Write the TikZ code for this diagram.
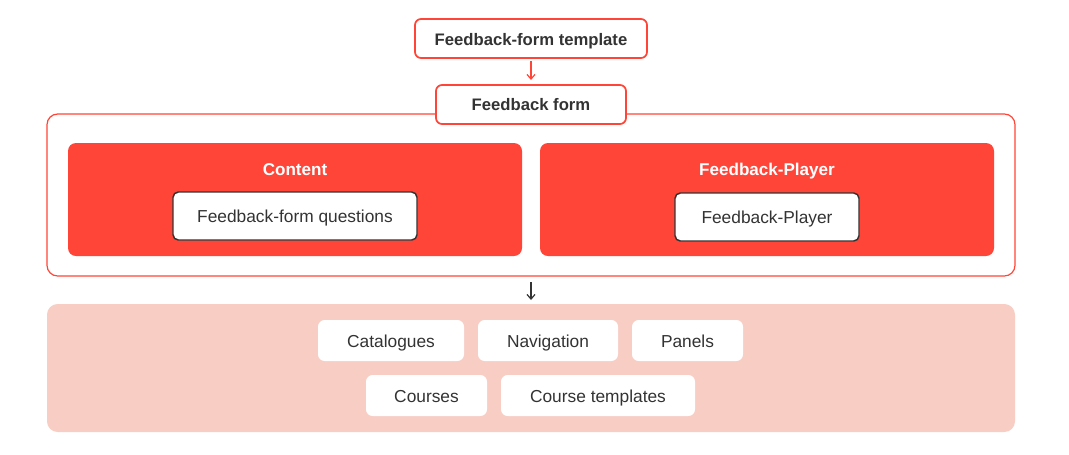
\documentclass[tikz,border=0pt]{standalone}
\usepackage{fontspec}
\setmainfont{Liberation Sans}
\usetikzlibrary{arrows.meta}
\definecolor{brandred}{HTML}{FF4538}
\definecolor{panelpink}{HTML}{F8CDC4}
\definecolor{ink}{HTML}{333333}
\begin{document}
\begin{tikzpicture}[x=0.75pt,y=-0.75pt,
  redbox/.style={draw=brandred,line width=1.3pt,fill=white,rounded corners=4.5pt},
  panel/.style={fill=brandred,rounded corners=6pt},
  innerbox/.style={draw=ink,line width=1.1pt,fill=white,rounded corners=4pt},
  pill/.style={fill=white,rounded corners=5pt},
  txt/.style={text height=9.2pt,text depth=0pt,inner sep=0pt},
  lbl/.style={txt,font=\fontsize{13pt}{15pt}\selectfont,text=ink},
  blbl/.style={txt,font=\fontsize{12.5pt}{15pt}\selectfont\bfseries,text=ink},
  wlbl/.style={txt,font=\fontsize{12.8pt}{15pt}\selectfont\bfseries,text=white},
  arr/.style={-{Straight Barb[length=3.5pt,width=6pt]},line width=0.9pt}]
\useasboundingbox[fill=white] (0,0) rectangle (1069,454);

% outer container of the feedback form
\draw[brandred,line width=0.9pt,rounded corners=8pt] (47,114) rectangle (1015,276);

% template and form title boxes
\draw[redbox] (415,19) rectangle (647,58);
\node[blbl] (tmpl) at (531,39) {Feedback-form template};
\coordinate (tmplbot) at (531,61);
\draw[redbox] (436,85) rectangle (626,124);
\node[blbl] (form) at (531,104.5) {Feedback form};
\coordinate (formtop) at (531,80);
\draw[arr,brandred] (tmplbot) -- (formtop);

% content panel
\fill[panel] (68,143) rectangle (522,256);
\node[wlbl] (content) at (295,169) {Content};
\draw[innerbox] (173,192) rectangle (417,240);
\node[lbl] (questions) at (295,216) {Feedback-form questions};

% player panel
\fill[panel] (540,143) rectangle (994,256);
\node[wlbl] (playerhead) at (767,169) {Feedback-Player};
\draw[innerbox] (675,193) rectangle (859,241);
\node[lbl] (player) at (767,217) {Feedback-Player};

% consumers panel
\fill[panelpink,rounded corners=8pt] (47,304) rectangle (1015,432);
\coordinate (arrtop) at (531,282);
\coordinate (pinktop) at (531,300);
\draw[arr,ink] (arrtop) -- (pinktop);

\fill[pill] (318,320) rectangle (464,361);
\node[lbl] (cat) at (391,341) {Catalogues};
\fill[pill] (478,320) rectangle (618,361);
\node[lbl] (nav) at (548,341) {Navigation};
\fill[pill] (632,320) rectangle (743,361);
\node[lbl] (pan) at (687.5,341) {Panels};
\fill[pill] (366,375) rectangle (487,416);
\node[lbl] (crs) at (426.5,396) {Courses};
\fill[pill] (501,375) rectangle (695,416);
\node[lbl] (crst) at (598,396) {Course templates};
\end{tikzpicture}
\end{document}
